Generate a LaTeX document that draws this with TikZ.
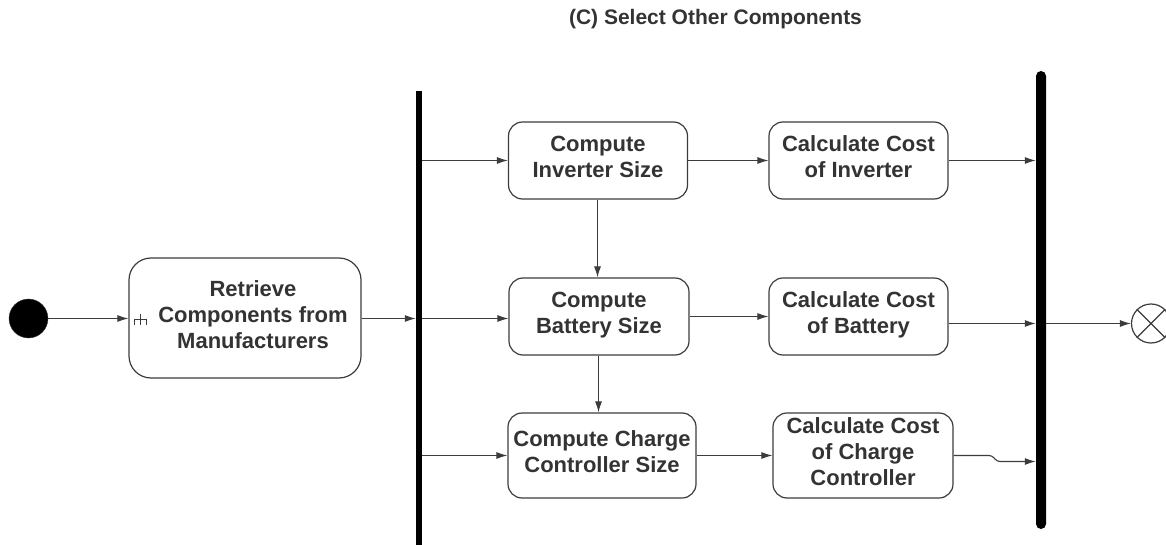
\documentclass[tikz,border=0pt]{standalone}
\usepackage{fontspec}
\setmainfont{Liberation Sans}
\usetikzlibrary{arrows.meta,calc}
\definecolor{txt}{HTML}{333333}
\definecolor{ln}{HTML}{3C3C3C}
\begin{document}
\begin{tikzpicture}[x=1pt,y=-1pt,
  box/.style={draw=ln,line width=1.2pt,rounded corners=14pt,align=center,
    text=txt,font=\fontsize{22}{26}\selectfont\bfseries,inner sep=0pt},
  arr/.style={draw=ln,line width=1.1pt,-{Latex[length=11pt,width=7pt]}},
  bar/.style={fill=black,draw=none,inner sep=0pt}]
\useasboundingbox (0,0) rectangle (1166,545);
\node[text=txt,font=\fontsize{21}{25}\selectfont\bfseries,anchor=base] (title) at (715.5,25) {(C) Select Other Components};
% start / end
\node[circle,fill=black,draw=ln,minimum size=39pt,inner sep=0pt] (init) at (28.5,318.5) {};
\node[circle,draw=ln,line width=1.2pt,minimum size=39pt,inner sep=0pt] (fin) at (1151,323.5) {};
\draw[ln,line width=1.2pt] (fin.north west) -- (fin.south east) (fin.north east) -- (fin.south west);
% bars
\node[bar,minimum width=6pt,minimum height=460pt] (fork) at (419,321) {};
\node[bar,rounded corners=5pt,minimum width=10pt,minimum height=458pt] (join) at (1041,300) {};
% boxes
\node[box,rounded corners=22pt,minimum width=232pt,minimum height=120pt] (ret) at (245,318)
  {\hspace*{16pt}Retrieve\\\hspace*{16pt}Components from\\\hspace*{16pt}Manufacturers\strut};
\node[box,minimum width=179pt,minimum height=77pt] (inv) at (598,160.5) {Compute\\Inverter Size\strut};
\node[box,minimum width=179pt,minimum height=77pt] (cinv) at (858.5,160.5) {Calculate Cost\\of Inverter\strut};
\node[box,minimum width=180pt,minimum height=77pt] (bat) at (599,316.5) {Compute\\Battery Size\strut};
\node[box,minimum width=179pt,minimum height=77pt] (cbat) at (858.5,316.5) {Calculate Cost\\of Battery\strut};
\node[box,minimum width=188pt,minimum height=85pt] (chg) at (602,455.5) {Compute Charge\\Controller Size\strut};
\node[box,minimum width=180pt,minimum height=85pt] (cchg) at (863,455.5) {Calculate Cost\\of Charge\\Controller\strut};
% call-behaviour symbol
\draw[ln,line width=0.9pt] (134,325) -- (134,319) -- (146,319) -- (146,325) (140,314) -- (140,325);
% connectors
\draw[arr] (init.east) -- (ret.west |- init.east);
\draw[arr] (ret.east |- 0,318.5) -- (fork.west |- 0,318.5);
\draw[arr] (fork.east |- inv.west) -- (inv.west);
\draw[arr] (fork.east |- 0,318.5) -- (bat.west |- 0,318.5);
\draw[arr] (fork.east |- chg.west) -- (chg.west);
\draw[arr] (inv.east) -- (cinv.west);
\draw[arr] (bat.east) -- (cbat.west);
\draw[arr] (chg.east) -- (cchg.west);
\draw[arr] (inv.south -| 597.5,0) -- (bat.north -| 597.5,0);
\draw[arr] (bat.south -| 598.5,0) -- (chg.north -| 598.5,0);
\draw[arr] (cinv.east) -- (cinv.east -| join.west);
\draw[arr] (cbat.east |- fin.west) -- (join.west |- fin.west);
\draw[arr,rounded corners=3pt] (cchg.east) -- (992,455.5) -- (997,461.5) -- (join.west |- 0,461.5);
\draw[arr] (join.east |- fin.west) -- (fin.west);
\end{tikzpicture}
\end{document}
